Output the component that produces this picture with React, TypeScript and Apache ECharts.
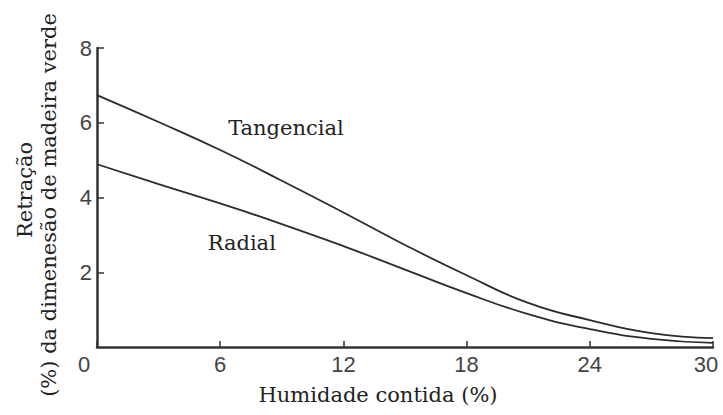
import React, { useEffect, useRef } from "react";
import * as echarts from "echarts";

const moisture = [0, 3, 6, 9, 12, 15, 18, 21, 24, 27, 30];
const tangencial = [6.74, 6.02, 5.27, 4.45, 3.6, 2.73, 1.92, 1.18, 0.72, 0.37, 0.24];
const radial = [4.89, 4.36, 3.84, 3.29, 2.7, 2.07, 1.44, 0.88, 0.48, 0.22, 0.11];
const tangLabelPos = [9.2, 5.86];
const radialLabelPos = [7.05, 2.78];
const xName = "Humidade contida (%)";
const yNameLine1 = "Retração";
const yNameLine2 = "(%) da dimenesão de madeira verde";

const serif = "DejaVu Serif";
const sans = "Liberation Sans";

export default function App() {
  const ref = useRef<HTMLDivElement>(null);
  useEffect(() => {
    if (!ref.current) return;
    const chart = echarts.init(ref.current, null, { renderer: "svg" });
    const lineStyle = { color: "#2b2b2b", width: 1.8 };
    const tickLabel = { fontFamily: sans, fontSize: 22, color: "#444" };
    const mkLabel = (text: string, pos: number[]) => ({
      symbol: "circle",
      symbolSize: 0,
      silent: true,
      data: [{ coord: pos, value: text }],
      label: {
        show: true,
        position: "inside",
        formatter: text,
        fontFamily: serif,
        fontSize: 21,
        color: "#222",
      },
    });
    const yTitle = (text: string, x: number, y: number, size: number) => ({
      type: "text",
      x,
      y,
      rotation: Math.PI / 2,
      style: {
        text,
        fontFamily: serif,
        fontSize: size,
        fill: "#222",
        textAlign: "center",
        textVerticalAlign: "middle",
      },
    });
    chart.setOption({
      animation: false,
      backgroundColor: "#fff",
      grid: { left: 97, right: 10, top: 48, bottom: 68, containLabel: false, outerBoundsMode: "none" },
      graphic: [yTitle(yNameLine1, 25, 190, 21), yTitle(yNameLine2, 49, 205, 21)],
      xAxis: {
        type: "value",
        min: 0,
        max: 30,
        interval: 6,
        name: xName,
        nameLocation: "middle",
        nameGap: 37,
        nameTextStyle: { fontFamily: serif, fontSize: 21, color: "#222", padding: [0, 54, 0, 0] },
        axisLine: { lineStyle: { color: "#333", width: 2.5 } },
        axisTick: { inside: true, length: 6, lineStyle: { color: "#333", width: 1.5 } },
        splitLine: { show: false },
        axisLabel: {
          ...tickLabel,
          margin: 6,
          formatter: (v: number) => (v === 0 ? "{z|0}" : v === 30 ? "{e|30}" : String(v)),
          rich: {
            z: { ...tickLabel, padding: [0, 26, 0, 0] },
            e: { ...tickLabel, padding: [0, 14, 0, 0] },
          },
        },
      },
      yAxis: {
        type: "value",
        min: 0,
        max: 8,
        interval: 2,
        axisLine: { lineStyle: { color: "#333", width: 2.5 } },
        axisTick: { inside: true, length: 7, lineStyle: { color: "#333", width: 1.5 } },
        splitLine: { show: false },
        axisLabel: { ...tickLabel, margin: 5, showMinLabel: false },
      },
      series: [
        {
          name: "Tangencial",
          type: "line",
          smooth: true,
          showSymbol: false,
          lineStyle,
          data: moisture.map((x, i) => [x, tangencial[i]]),
          markPoint: mkLabel("Tangencial", tangLabelPos),
        },
        {
          name: "Radial",
          type: "line",
          smooth: true,
          showSymbol: false,
          lineStyle,
          data: moisture.map((x, i) => [x, radial[i]]),
          markPoint: mkLabel("Radial", radialLabelPos),
        },
      ],
    });
    return () => chart.dispose();
  }, []);
  return <div ref={ref} style={{ width: 723, height: 415, position: "absolute", left: 0, top: 0 }} />;
}
